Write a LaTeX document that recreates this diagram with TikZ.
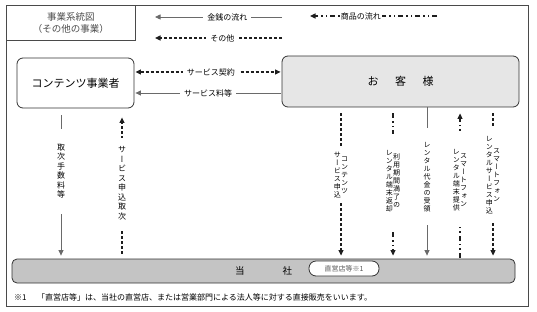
\documentclass[tikz,border=0pt]{standalone}
\usepackage{fontspec}
\usepackage{xcolor}
\usepackage{tikz}
\usetikzlibrary{arrows.meta,positioning,calc}
\newfontfamily\jp{Noto Sans CJK JP}
\newfontfamily\jpv[RawFeature=+vert]{Noto Sans CJK JP}
\definecolor{frameline}{HTML}{4A4A4A}
\definecolor{custfill}{HTML}{E6E6E6}
\definecolor{corpfill}{HTML}{C4C4C4}
\definecolor{ink2}{HTML}{1E1E1E}
\definecolor{moneyline}{HTML}{6A6A6A}
\makeatletter
\newcommand\tate[1]{\parbox[c]{1.05em}{\centering\@tfor\tatech:=#1\do{\tatech\endgraf}}}
\makeatother

\begin{document}
\begin{tikzpicture}[x=1pt, y=-1pt, >={Triangle[length=5.5pt,width=5pt]},
  frm/.style={draw=frameline, line width=0.8pt},
  box/.style={draw=black!80, line width=0.8pt, rounded corners=6pt, font=\jp\fontsize{11pt}{13pt}\selectfont},
  lab/.style={fill=white, inner xsep=4pt, inner ysep=2pt, text=black, font=\jp\fontsize{8pt}{10pt}\selectfont},
  vlab/.style={fill=white, inner sep=0pt, text=black, font=\jpv\fontsize{8pt}{9.5pt}\selectfont},
  vlabs/.style={vlab, font=\jpv\fontsize{7pt}{8pt}\selectfont},
  money/.style={->, draw=moneyline, line width=0.8pt},
  other/.style={->, ink2, line width=1.2pt, dash pattern=on 3pt off 2pt},
  goods/.style={->, ink2, line width=1.2pt, dash pattern=on 5pt off 3pt on 1.5pt off 3pt on 1.5pt off 3pt}]
  \useasboundingbox (0,0) rectangle (537,312);
  \draw[frm] (6,5) rectangle (528,306);
  \node[frm, anchor=north west, minimum width=129pt, minimum height=35pt, inner sep=0pt, align=center,
        text=black!70, font=\jp\fontsize{9.5pt}{12pt}\selectfont] (title) at (6,5) {事業系統図\\（その他の事業）};

  \node[box, fill=white, minimum width=117pt, minimum height=50pt] (cp) at (75.5,83) {コンテンツ事業者};
  \node[box, fill=custfill, minimum width=237pt, minimum height=51pt] (cust) at (400.5,81.5) {お\hspace{1.5em}客\hspace{1.5em}様};
  \node[box, fill=corpfill, rounded corners=5pt, minimum width=503pt, minimum height=24pt,
        font=\jp\fontsize{9.5pt}{11pt}\selectfont] (corp) at (263.5,271) {当\hspace{4em}社};
  \node[draw=black!80, line width=0.8pt, fill=white, rounded corners=7pt, minimum width=70pt, minimum height=15pt,
        inner sep=0pt, text=black!65, font=\jp\fontsize{7pt}{8pt}\selectfont] (shop) at (344,268.5) {直営店等※1};
  \node[anchor=west, inner sep=0pt, text=black, font=\jp\fontsize{8pt}{10pt}\selectfont] (note) at (14,297)
    {※1\hspace{1.3em}「直営店等」は、当社の直営店、または営業部門による法人等に対する直接販売をいいます。};

  \coordinate (m1) at (282,17);  \coordinate (m2) at (155,17);
  \coordinate (o1) at (282,38);  \coordinate (o2) at (155,38);
  \coordinate (g1) at (437,16);  \coordinate (g2) at (310,16);
  \draw[money] (m1) -- node[lab, pos=.43] (lmoney) {金銭の流れ} (m2);
  \draw[other] (o1) -- node[lab, pos=.47] (lother) {その他} (o2);
  \draw[goods] (g1) -- node[lab, pos=.6, inner xsep=1pt] (lgoods) {商品の流れ} (g2);

  \coordinate (r1) at (0,72);  \coordinate (r2) at (0,93);
  \draw[other, <->, shorten <=1pt, shorten >=1pt] (cp.east |- r1) -- node[lab, pos=.52] (lcontract) {サービス契約} (cust.west |- r1);
  \draw[money, shorten <=1pt, shorten >=1pt] (cust.west |- r2) -- node[lab, pos=.5] (lfee) {サービス料等} (cp.east |- r2);

  \coordinate (x1) at (61,0);   \coordinate (x2) at (122,0);
  \coordinate (x3) at (341,0);  \coordinate (x4) at (393,0);
  \coordinate (x5) at (427,0);  \coordinate (x6) at (460,0);
  \coordinate (x7) at (493,0);
  \draw[money, shorten <=7pt, shorten >=3pt] (cp.south -| x1) -- node[vlab, pos=.417, minimum width=16pt, minimum height=85pt] (lcommission) {\tate{取次手数料等}} (corp.north -| x1);
  \draw[other, shorten <=5pt, shorten >=9pt] (corp.north -| x2) -- node[vlab, pos=.503, minimum width=20pt, minimum height=91pt] (lagency) {\tate{サービス申込取次}} (cp.south -| x2);
  \draw[other, shorten <=6pt, shorten >=3pt] (cust.south -| x3) -- node[vlabs, pos=.447, minimum width=25pt, minimum height=55pt] (lcontent) {\tate{サービス申込}\tate{コンテンツ}} (corp.north -| x3);
  \draw[goods, shorten <=6pt, shorten >=3pt] (cust.south -| x4) -- node[vlabs, pos=.487, minimum width=38pt, minimum height=95pt] (lreturn) {\tate{レンタル端末返却}\tate{利用期間満了の}} (corp.north -| x4);
  \draw[money, shorten >=3pt] (cust.south -| x5) -- node[vlabs, pos=.46, minimum width=31pt, minimum height=97pt] (lreceipt) {\tate{レンタル代金の受領}} (corp.north -| x5);
  \draw[goods, shorten <=1pt, shorten >=6pt] (corp.north -| x6) -- node[vlabs, pos=.52, minimum width=32pt, minimum height=95pt] (lsupply) {\tate{レンタル端末提供}\tate{スマートフォン}} (cust.south -| x6);
  \draw[other, shorten <=6pt, shorten >=3pt] (cust.south -| x7) -- node[vlabs, pos=.45, minimum width=26pt, minimum height=94pt] (lrental) {\tate{レンタルサービス申込}\tate{スマートフォン}} (corp.north -| x7);
\end{tikzpicture}
\end{document}
